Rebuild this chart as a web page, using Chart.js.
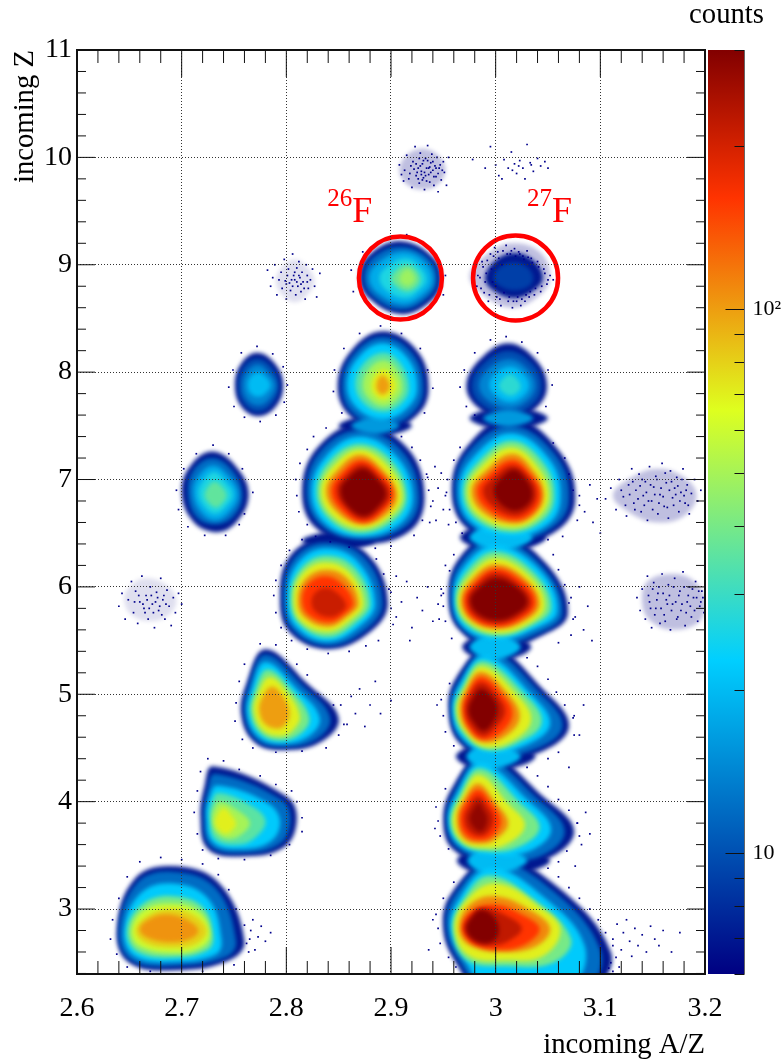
<!DOCTYPE html>
<html lang="en">
<head>
  <meta charset="UTF-8">
  <title>incoming Z vs incoming A/Z</title>
  <style>
    body { margin: 0; background: white; }
    #wrap { position: relative; width: 784px; height: 1063px; overflow: hidden; }
    canvas { position: absolute; top: 0; }
    #pid { left: 0; }
    #bar { left: 690px; }
  </style>
  <script src="https://cdn.jsdelivr.net/npm/chart.js"></script>
</head>
<body>
  <div id="wrap">
    <canvas id="pid" width="784" height="1063"></canvas>
    <canvas id="bar" width="94" height="1063"></canvas>
  </div>

  <script>
    // axis ticks
    const xTicks = [2.6, 2.7, 2.8, 2.9, 3, 3.1, 3.2];
    const xMinor = [2.62,2.64,2.66,2.68,2.72,2.74,2.76,2.78,2.82,2.84,2.86,2.88,2.92,2.94,2.96,2.98,3.02,3.04,3.06,3.08,3.12,3.14,3.16,3.18];
    const yTicks = [3, 4, 5, 6, 7, 8, 9, 10, 11];
    const yMinor = [2.4,2.6,2.8,3.2,3.4,3.6,3.8,4.2,4.4,4.6,4.8,5.2,5.4,5.6,5.8,6.2,6.4,6.6,6.8,7.2,7.4,7.6,7.8,8.2,8.4,8.6,8.8,9.2,9.4,9.6,9.8,10.2,10.4,10.6,10.8];
    const countTicks = [6,7,8,9,10,20,30,40,50,60,70,80,90,100,200,300];
    const countMajor = [10, 100];

    // ROOT rainbow palette stops
    const paletteStops = [0, 0.34, 0.61, 0.84, 1];
    const paletteRGB = [[0,0,130],[0,207,255],[222,255,31],[255,51,0],[130,0,0]];

    // count contours: [count, [x,z, x,z, ...]]
    const z7a = [
      [7,  [2.932,6.85, 2.915,7.30, 2.870,7.52, 2.830,7.30, 2.815,6.90, 2.828,6.55, 2.870,6.40, 2.918,6.52]],
      [12, [2.927,6.85, 2.910,7.27, 2.870,7.46, 2.833,7.27, 2.819,6.90, 2.832,6.58, 2.870,6.44, 2.914,6.56]],
      [22, [2.921,6.85, 2.905,7.22, 2.870,7.40, 2.838,7.22, 2.824,6.90, 2.836,6.60, 2.870,6.47, 2.908,6.58]],
      [40, [2.915,6.85, 2.900,7.18, 2.870,7.33, 2.842,7.18, 2.829,6.90, 2.840,6.64, 2.870,6.50, 2.903,6.62]],
      [70, [2.911,6.85, 2.897,7.13, 2.870,7.28, 2.845,7.13, 2.833,6.90, 2.843,6.67, 2.871,6.54, 2.899,6.65]],
      [110,[2.906,6.86, 2.893,7.08, 2.870,7.23, 2.848,7.08, 2.838,6.90, 2.847,6.71, 2.872,6.58, 2.896,6.68]],
      [160,[2.902,6.87, 2.891,7.05, 2.871,7.18, 2.852,7.05, 2.843,6.90, 2.851,6.73, 2.873,6.60, 2.893,6.71]],
      [220,[2.899,6.87, 2.889,7.02, 2.872,7.14, 2.855,7.02, 2.848,6.90, 2.855,6.75, 2.873,6.63, 2.891,6.73]],
      [300,[2.895,6.87, 2.887,7.00, 2.873,7.10, 2.858,7.00, 2.852,6.90, 2.858,6.76, 2.874,6.66, 2.888,6.75]]
    ];
    const z7b = [
      [7,  [3.076,6.80, 3.062,7.25, 3.015,7.58, 2.972,7.30, 2.958,6.90, 2.972,6.55, 3.015,6.40, 3.058,6.52]],
      [12, [3.070,6.80, 3.058,7.22, 3.015,7.50, 2.974,7.26, 2.961,6.90, 2.974,6.58, 3.015,6.43, 3.054,6.55]],
      [22, [3.062,6.82, 3.052,7.18, 3.015,7.43, 2.978,7.20, 2.965,6.90, 2.977,6.60, 3.015,6.47, 3.050,6.58]],
      [40, [3.056,6.84, 3.046,7.15, 3.015,7.36, 2.982,7.15, 2.969,6.90, 2.980,6.64, 3.015,6.51, 3.045,6.62]],
      [70, [3.051,6.85, 3.041,7.11, 3.015,7.30, 2.985,7.11, 2.973,6.90, 2.983,6.67, 3.016,6.55, 3.041,6.65]],
      [110,[3.046,6.86, 3.037,7.07, 3.016,7.24, 2.989,7.07, 2.977,6.90, 2.987,6.70, 3.017,6.59, 3.038,6.68]],
      [160,[3.043,6.87, 3.034,7.04, 3.016,7.18, 2.993,7.04, 2.982,6.90, 2.991,6.73, 3.017,6.62, 3.036,6.70]],
      [220,[3.039,6.87, 3.032,7.02, 3.016,7.13, 2.997,7.01, 2.988,6.90, 2.996,6.76, 3.017,6.66, 3.033,6.73]],
      [300,[3.035,6.87, 3.029,7.00, 3.017,7.09, 3.003,6.99, 2.998,6.90, 3.003,6.79, 3.017,6.71, 3.030,6.76]]
    ];
    const z6a = [
      [7,  [2.897,5.85, 2.878,6.30, 2.835,6.45, 2.803,6.28, 2.794,5.90, 2.803,5.58, 2.840,5.42, 2.880,5.58]],
      [12, [2.892,5.85, 2.874,6.28, 2.835,6.41, 2.806,6.25, 2.797,5.90, 2.806,5.60, 2.840,5.45, 2.876,5.60]],
      [22, [2.885,5.85, 2.868,6.24, 2.836,6.36, 2.810,6.21, 2.801,5.90, 2.809,5.63, 2.840,5.49, 2.871,5.64]],
      [40, [2.880,5.85, 2.864,6.19, 2.836,6.29, 2.813,6.16, 2.804,5.90, 2.812,5.66, 2.840,5.53, 2.867,5.67]],
      [70, [2.874,5.85, 2.860,6.14, 2.836,6.23, 2.815,6.12, 2.807,5.90, 2.814,5.68, 2.840,5.58, 2.863,5.70]],
      [110,[2.869,5.85, 2.857,6.09, 2.837,6.16, 2.818,6.07, 2.811,5.88, 2.817,5.72, 2.840,5.63, 2.859,5.73]],
      [160,[2.864,5.85, 2.853,6.03, 2.837,6.10, 2.821,6.03, 2.815,5.88, 2.821,5.74, 2.841,5.67, 2.856,5.75]],
      [210,[2.857,5.83, 2.849,5.94, 2.838,5.99, 2.828,5.95, 2.824,5.85, 2.829,5.76, 2.842,5.72, 2.852,5.76]]
    ];
    const z6b = [
      [7,  [3.069,5.75, 3.050,6.20, 3.000,6.50, 2.964,6.25, 2.955,5.90, 2.965,5.60, 3.000,5.42, 3.045,5.55]],
      [12, [3.064,5.75, 3.047,6.17, 3.000,6.45, 2.966,6.22, 2.957,5.90, 2.967,5.62, 3.000,5.46, 3.042,5.57]],
      [22, [3.059,5.77, 3.043,6.15, 3.000,6.39, 2.969,6.18, 2.960,5.88, 2.970,5.62, 3.002,5.51, 3.038,5.61]],
      [40, [3.053,5.80, 3.038,6.12, 3.000,6.33, 2.972,6.14, 2.962,5.88, 2.972,5.65, 3.002,5.54, 3.035,5.64]],
      [70, [3.047,5.82, 3.034,6.09, 3.000,6.27, 2.975,6.10, 2.964,5.88, 2.974,5.67, 3.002,5.57, 3.032,5.66]],
      [110,[3.042,5.84, 3.030,6.06, 3.000,6.21, 2.977,6.07, 2.967,5.88, 2.976,5.69, 3.002,5.61, 3.029,5.69]],
      [160,[3.038,5.85, 3.027,6.04, 3.000,6.17, 2.979,6.03, 2.970,5.88, 2.978,5.71, 3.002,5.63, 3.026,5.71]],
      [220,[3.034,5.85, 3.024,6.01, 3.000,6.13, 2.981,6.01, 2.973,5.88, 2.980,5.73, 3.002,5.66, 3.023,5.73]],
      [300,[3.030,5.86, 3.021,5.99, 3.000,6.08, 2.984,5.99, 2.976,5.88, 2.983,5.75, 3.002,5.69, 3.020,5.75]]
    ];
    const z5b = [
      [7,  [3.070,4.70, 3.045,5.05, 2.995,5.45, 2.962,5.15, 2.955,4.85, 2.965,4.55, 2.995,4.40, 3.040,4.45]],
      [12, [3.064,4.70, 3.042,5.02, 2.993,5.41, 2.964,5.12, 2.957,4.85, 2.967,4.57, 2.995,4.43, 3.036,4.48]],
      [22, [3.052,4.72, 3.034,5.00, 2.990,5.36, 2.966,5.09, 2.959,4.85, 2.968,4.60, 2.993,4.46, 3.028,4.52]],
      [40, [3.044,4.74, 3.028,5.00, 2.988,5.31, 2.968,5.07, 2.961,4.85, 2.970,4.62, 2.992,4.48, 3.022,4.55]],
      [70, [3.034,4.76, 3.021,4.99, 2.987,5.26, 2.970,5.04, 2.963,4.85, 2.972,4.64, 2.990,4.51, 3.017,4.57]],
      [110,[3.023,4.79, 3.013,4.99, 2.986,5.21, 2.971,5.03, 2.966,4.85, 2.973,4.66, 2.989,4.55, 3.011,4.62]],
      [160,[3.016,4.82, 3.007,4.99, 2.986,5.16, 2.973,5.00, 2.969,4.85, 2.975,4.68, 2.988,4.58, 3.006,4.65]],
      [220,[3.009,4.84, 3.002,4.98, 2.986,5.11, 2.975,4.99, 2.971,4.85, 2.976,4.71, 2.988,4.61, 3.000,4.69]],
      [300,[3.002,4.86, 2.997,4.97, 2.986,5.05, 2.978,4.96, 2.974,4.85, 2.979,4.74, 2.988,4.66, 2.997,4.73]]
    ];
    const z4b = [
      [7,  [3.075,3.72, 3.045,4.05, 2.990,4.45, 2.958,4.12, 2.950,3.80, 2.960,3.55, 2.995,3.42, 3.045,3.45]],
      [12, [3.066,3.72, 3.040,4.03, 2.988,4.41, 2.960,4.09, 2.953,3.80, 2.963,3.57, 2.993,3.46, 3.040,3.48]],
      [22, [3.053,3.74, 3.030,4.02, 2.986,4.36, 2.963,4.07, 2.955,3.82, 2.965,3.60, 2.990,3.51, 3.030,3.53]],
      [40, [3.042,3.76, 3.022,4.00, 2.985,4.31, 2.965,4.05, 2.957,3.82, 2.966,3.62, 2.989,3.54, 3.020,3.57]],
      [70, [3.028,3.78, 3.012,3.98, 2.984,4.25, 2.967,4.03, 2.959,3.82, 2.968,3.63, 2.987,3.57, 3.010,3.60]],
      [110,[3.012,3.80, 3.000,3.99, 2.983,4.17, 2.969,4.01, 2.963,3.84, 2.969,3.66, 2.985,3.61, 3.000,3.65]],
      [160,[3.005,3.82, 2.996,3.98, 2.983,4.11, 2.971,3.98, 2.966,3.84, 2.971,3.69, 2.985,3.64, 2.997,3.68]],
      [220,[2.998,3.84, 2.992,3.96, 2.983,4.05, 2.974,3.95, 2.970,3.84, 2.974,3.73, 2.985,3.68, 2.994,3.73]],
      [280,[2.992,3.85, 2.988,3.93, 2.984,3.99, 2.978,3.92, 2.975,3.85, 2.978,3.77, 2.985,3.72, 2.990,3.76]]
    ];
    const z3b = [
      [7,  [3.110,2.60, 3.060,3.20, 3.000,3.48, 2.958,3.15, 2.950,2.80, 2.965,2.45, 2.980,2.30, 3.095,2.30]],
      [12, [3.100,2.62, 3.055,3.17, 2.998,3.44, 2.960,3.12, 2.953,2.80, 2.968,2.47, 2.985,2.30, 3.088,2.30]],
      [22, [3.085,2.66, 3.045,3.12, 2.995,3.38, 2.964,3.08, 2.957,2.80, 2.972,2.50, 2.990,2.30, 3.072,2.30]],
      [40, [3.072,2.72, 3.035,3.10, 2.993,3.31, 2.967,3.05, 2.959,2.80, 2.973,2.52, 3.010,2.47, 3.055,2.50]],
      [70, [3.062,2.80, 3.045,3.00, 3.000,3.24, 2.970,3.06, 2.961,2.80, 2.975,2.56, 3.010,2.52, 3.045,2.56]],
      [110,[3.052,2.82, 3.035,2.98, 3.000,3.12, 2.975,3.04, 2.965,2.82, 2.975,2.66, 3.010,2.60, 3.040,2.66]],
      [160,[3.042,2.82, 3.025,2.95, 3.000,3.04, 2.977,2.98, 2.968,2.82, 2.978,2.68, 3.005,2.62, 3.030,2.68]],
      [220,[3.025,2.82, 3.010,2.94, 2.988,3.01, 2.977,2.95, 2.970,2.82, 2.978,2.70, 2.995,2.66, 3.012,2.70]],
      [300,[3.003,2.82, 2.998,2.93, 2.986,2.99, 2.977,2.92, 2.972,2.82, 2.978,2.72, 2.990,2.68, 3.000,2.72]]
    ];
    const z5a = [
      [7,  [2.850,4.78, 2.820,5.10, 2.780,5.42, 2.762,5.10, 2.757,4.80, 2.770,4.55, 2.795,4.48, 2.832,4.55]],
      [12, [2.842,4.78, 2.816,5.08, 2.780,5.37, 2.764,5.08, 2.760,4.80, 2.772,4.57, 2.795,4.51, 2.827,4.57]],
      [22, [2.832,4.78, 2.810,5.05, 2.780,5.30, 2.767,5.05, 2.763,4.80, 2.774,4.60, 2.795,4.54, 2.820,4.60]],
      [40, [2.822,4.78, 2.805,5.04, 2.782,5.23, 2.770,5.03, 2.766,4.82, 2.776,4.63, 2.795,4.57, 2.813,4.63]],
      [70, [2.813,4.80, 2.801,5.02, 2.784,5.16, 2.773,5.01, 2.769,4.84, 2.778,4.66, 2.795,4.61, 2.807,4.67]],
      [100,[2.803,4.84, 2.797,4.98, 2.786,5.07, 2.777,4.97, 2.774,4.85, 2.780,4.72, 2.792,4.68, 2.800,4.73]]
    ];
    const z4a = [
      [7,  [2.810,3.83, 2.800,4.05, 2.730,4.33, 2.722,4.15, 2.718,3.85, 2.725,3.56, 2.755,3.49, 2.797,3.57]],
      [12, [2.804,3.83, 2.795,4.02, 2.732,4.26, 2.725,4.12, 2.721,3.85, 2.727,3.59, 2.755,3.52, 2.793,3.60]],
      [22, [2.794,3.83, 2.780,4.00, 2.734,4.15, 2.727,4.05, 2.724,3.85, 2.730,3.62, 2.755,3.56, 2.785,3.63]],
      [35, [2.780,3.83, 2.765,3.97, 2.735,4.08, 2.729,4.00, 2.727,3.85, 2.732,3.65, 2.755,3.60, 2.772,3.68]],
      [50, [2.765,3.81, 2.752,3.93, 2.737,4.00, 2.731,3.94, 2.729,3.82, 2.734,3.70, 2.745,3.65, 2.758,3.70]],
      [70, [2.752,3.80, 2.747,3.88, 2.740,3.94, 2.734,3.88, 2.732,3.80, 2.736,3.73, 2.743,3.70, 2.749,3.74]]
    ];
    const z3a = [
      [7,  [2.760,2.70, 2.735,3.25, 2.690,3.40, 2.655,3.28, 2.638,2.80, 2.650,2.50, 2.695,2.43, 2.745,2.52]],
      [12, [2.752,2.70, 2.732,3.20, 2.690,3.35, 2.657,3.24, 2.640,2.80, 2.652,2.52, 2.695,2.47, 2.742,2.55]],
      [22, [2.738,2.72, 2.725,3.10, 2.690,3.24, 2.660,3.14, 2.645,2.80, 2.655,2.56, 2.695,2.51, 2.733,2.58]],
      [40, [2.730,2.75, 2.720,3.02, 2.690,3.12, 2.662,3.04, 2.648,2.80, 2.658,2.60, 2.695,2.55, 2.725,2.62]],
      [60, [2.727,2.78, 2.716,2.98, 2.690,3.05, 2.664,2.99, 2.652,2.80, 2.660,2.65, 2.695,2.59, 2.720,2.65]],
      [80, [2.724,2.80, 2.712,2.94, 2.690,3.00, 2.668,2.94, 2.656,2.80, 2.666,2.68, 2.695,2.64, 2.715,2.68]],
      [105,[2.716,2.80, 2.705,2.90, 2.685,2.95, 2.668,2.90, 2.660,2.81, 2.668,2.73, 2.690,2.69, 2.708,2.72]]
    ];
    const z7c = [
      [7,  [2.764,6.86, 2.752,7.12, 2.730,7.26, 2.710,7.15, 2.700,6.90, 2.710,6.62, 2.732,6.51, 2.752,6.60]],
      [12, [2.758,6.86, 2.749,7.08, 2.730,7.20, 2.712,7.10, 2.706,6.88, 2.714,6.65, 2.732,6.58, 2.750,6.66]],
      [18, [2.754,6.86, 2.745,7.03, 2.730,7.13, 2.716,7.03, 2.711,6.88, 2.718,6.70, 2.732,6.62, 2.746,6.70]],
      [26, [2.749,6.86, 2.741,6.99, 2.731,7.07, 2.720,6.98, 2.716,6.86, 2.722,6.74, 2.732,6.68, 2.742,6.74]],
      [36, [2.743,6.85, 2.738,6.94, 2.731,6.98, 2.725,6.93, 2.722,6.85, 2.726,6.78, 2.733,6.74, 2.739,6.78]]
    ];
    const z8a = [
      [7,  [2.797,7.88, 2.789,8.08, 2.772,8.18, 2.757,8.08, 2.751,7.88, 2.757,7.68, 2.773,7.59, 2.790,7.68]],
      [10, [2.793,7.88, 2.786,8.05, 2.772,8.13, 2.759,8.05, 2.754,7.88, 2.759,7.71, 2.773,7.63, 2.787,7.71]],
      [14, [2.790,7.88, 2.783,8.00, 2.773,8.07, 2.762,8.00, 2.758,7.88, 2.762,7.75, 2.773,7.69, 2.784,7.75]],
      [20, [2.785,7.88, 2.780,7.96, 2.773,8.00, 2.766,7.96, 2.763,7.88, 2.766,7.80, 2.773,7.77, 2.780,7.80]]
    ];
    const z8b = [
      [7,  [2.936,7.85, 2.925,8.20, 2.892,8.38, 2.862,8.20, 2.849,7.88, 2.860,7.60, 2.893,7.45, 2.925,7.60]],
      [12, [2.931,7.85, 2.921,8.17, 2.892,8.33, 2.864,8.17, 2.853,7.88, 2.863,7.62, 2.893,7.50, 2.921,7.62]],
      [22, [2.925,7.85, 2.916,8.13, 2.892,8.27, 2.868,8.13, 2.858,7.88, 2.868,7.66, 2.893,7.56, 2.915,7.66]],
      [35, [2.917,7.85, 2.909,8.08, 2.893,8.18, 2.874,8.08, 2.866,7.88, 2.875,7.70, 2.893,7.63, 2.909,7.70]],
      [50, [2.911,7.86, 2.905,8.03, 2.893,8.11, 2.879,8.03, 2.873,7.87, 2.880,7.74, 2.893,7.68, 2.905,7.74]],
      [70, [2.905,7.87, 2.900,7.98, 2.893,8.03, 2.885,7.98, 2.881,7.87, 2.885,7.78, 2.893,7.74, 2.900,7.78]],
      [100,[2.899,7.87, 2.896,7.94, 2.892,7.97, 2.888,7.94, 2.886,7.87, 2.888,7.81, 2.892,7.79, 2.896,7.81]]
    ];
    const z8c = [
      [7,  [3.049,7.88, 3.038,8.12, 3.012,8.27, 2.985,8.12, 2.972,7.88, 2.982,7.68, 3.012,7.55, 3.040,7.68]],
      [10, [3.044,7.88, 3.035,8.08, 3.012,8.20, 2.988,8.08, 2.977,7.88, 2.986,7.70, 3.012,7.60, 3.036,7.70]],
      [14, [3.038,7.88, 3.030,8.03, 3.013,8.12, 2.993,8.03, 2.984,7.88, 2.992,7.74, 3.013,7.66, 3.031,7.74]],
      [20, [3.032,7.88, 3.026,7.99, 3.014,8.05, 3.000,7.99, 2.994,7.88, 3.000,7.78, 3.014,7.72, 3.027,7.78]],
      [28, [3.024,7.87, 3.020,7.94, 3.014,7.98, 3.007,7.94, 3.003,7.87, 3.007,7.81, 3.014,7.78, 3.021,7.81]]
    ];
    const z9a = [
      [7,  [2.948,8.85, 2.940,9.07, 2.910,9.22, 2.880,9.10, 2.870,8.88, 2.880,8.68, 2.910,8.54, 2.938,8.66]],
      [12, [2.944,8.85, 2.937,9.05, 2.910,9.17, 2.883,9.07, 2.874,8.88, 2.883,8.70, 2.910,8.58, 2.935,8.69]],
      [18, [2.940,8.85, 2.933,9.02, 2.912,9.12, 2.888,9.02, 2.879,8.88, 2.888,8.73, 2.912,8.63, 2.931,8.72]],
      [26, [2.934,8.86, 2.928,8.98, 2.914,9.06, 2.896,8.98, 2.889,8.88, 2.896,8.76, 2.914,8.69, 2.927,8.76]],
      [38, [2.928,8.86, 2.924,8.95, 2.915,9.00, 2.905,8.95, 2.900,8.87, 2.905,8.80, 2.915,8.75, 2.924,8.79]],
      [48, [2.923,8.87, 2.920,8.93, 2.916,8.96, 2.911,8.93, 2.908,8.87, 2.911,8.82, 2.916,8.80, 2.920,8.82]]
    ];
    const z9b = [
      [2,  [3.052,8.88, 3.042,9.12, 3.015,9.20, 2.992,9.10, 2.975,8.90, 2.988,8.72, 3.015,8.60, 3.040,8.70]],
      [7,  [3.045,8.88, 3.036,9.04, 3.018,9.11, 3.000,9.04, 2.990,8.88, 2.998,8.76, 3.018,8.69, 3.036,8.76]],
      [9,  [3.036,8.88, 3.030,8.98, 3.018,9.02, 3.004,8.98, 2.998,8.88, 3.004,8.80, 3.018,8.76, 3.032,8.80]]
    ];
    const necks = [
      [7,  [3.048,6.46, 3.005,6.62, 2.966,6.46, 3.005,6.32]],
      [20, [3.035,6.46, 3.005,6.60, 2.975,6.46, 3.005,6.34]],
      [7,  [3.034,5.44, 2.998,5.58, 2.968,5.44, 2.998,5.30]],
      [20, [3.024,5.44, 2.998,5.56, 2.975,5.44, 2.998,5.32]],
      [7,  [3.038,4.42, 2.995,4.56, 2.962,4.42, 2.995,4.28]],
      [20, [3.024,4.42, 2.993,4.54, 2.972,4.42, 2.993,4.30]],
      [7,  [3.052,3.45, 3.000,3.60, 2.963,3.45, 3.000,3.30]],
      [20, [3.030,3.45, 2.996,3.58, 2.973,3.45, 2.996,3.32]],
      [7,  [2.885,6.43, 2.850,6.52, 2.815,6.43, 2.850,6.34]],
      [7,  [2.920,7.50, 2.885,7.60, 2.850,7.50, 2.885,7.40]],
      [16, [2.908,7.50, 2.885,7.58, 2.862,7.50, 2.885,7.42]],
      [7,  [3.050,7.57, 3.012,7.68, 2.975,7.57, 3.012,7.46]],
      [16, [3.036,7.57, 3.012,7.65, 2.988,7.57, 3.012,7.49]]
    ];
    const sparse = [
      [2,  [2.952,9.88, 2.945,10.02, 2.930,10.08, 2.915,10.02, 2.908,9.88, 2.915,9.75, 2.930,9.70, 2.945,9.75]],
      [2,  [3.192,6.85, 3.180,7.02, 3.155,7.10, 3.130,7.02, 3.112,6.85, 3.130,6.68, 3.155,6.60, 3.180,6.66]],
      [2,  [3.200,5.87, 3.190,6.05, 3.170,6.12, 3.145,6.05, 3.140,5.85, 3.148,5.68, 3.170,5.60, 3.195,5.68]],
      [1,  [2.695,5.88, 2.685,6.02, 2.665,6.08, 2.650,6.00, 2.645,5.88, 2.652,5.74, 2.670,5.68, 2.688,5.74]],
      [1,  [2.827,8.85, 2.820,8.98, 2.808,9.05, 2.796,8.98, 2.790,8.85, 2.796,8.72, 2.808,8.65, 2.820,8.72]]
    ];

    // lone low-count cells: x,z pairs
    const cellsZ10a = [2.908,9.93,2.912,9.78,2.915,10.02,2.918,9.85,2.92,9.72,2.921,9.96,2.923,10.1,2.924,9.83,2.926,9.9,2.927,9.76,2.928,10.04,2.929,9.87,2.93,9.94,2.931,9.81,2.932,9.7,2.933,9.99,2.934,9.9,2.935,10.11,2.936,9.84,2.937,9.77,2.938,9.95,2.939,10.03,2.94,9.88,2.941,9.74,2.942,9.92,2.943,9.82,2.944,10.0,2.945,9.68,2.946,9.9,2.948,9.79,2.95,9.96,2.951,9.86,2.953,9.74,2.955,10.0,2.927,9.99,2.932,9.86,2.937,9.91,2.925,9.86,2.93,9.79,2.935,9.97,
      2.922,9.89,2.924,9.94,2.926,9.8,2.928,9.92,2.929,9.84,2.931,9.97,2.933,9.83,2.934,9.78,2.936,9.9,2.938,9.86,2.94,9.96,2.941,9.82,2.943,9.9,2.945,9.85,2.947,9.93,2.919,9.92,2.917,9.8,2.913,9.88,2.91,9.84,2.949,9.88];
    const cellsZ10b = [2.978,9.98,2.99,9.9,2.995,10.1,3.0,9.93,3.003,9.83,3.008,9.98,3.012,9.9,3.015,10.05,3.018,9.94,3.02,9.85,3.023,9.97,3.026,9.9,3.03,10.12,3.033,9.95,3.036,9.87,3.04,9.99,3.043,9.92,3.047,9.96,3.05,9.9,3.006,9.8,3.028,9.8,3.016,9.88,3.022,9.92,3.034,9.93];
    const cellsZ9c = [2.782,8.95,2.785,8.8,2.787,8.88,2.789,9.0,2.791,8.72,2.793,8.86,2.795,8.93,2.796,8.78,2.798,9.05,2.799,8.85,2.8,8.68,2.802,8.96,2.803,8.83,2.804,8.76,2.806,9.1,2.807,8.9,2.808,8.86,2.809,8.72,2.81,8.97,2.811,8.8,2.812,9.03,2.813,8.88,2.814,8.75,2.815,8.93,2.816,8.84,2.818,8.68,2.819,9.0,2.82,8.9,2.821,8.78,2.823,8.86,2.825,8.96,2.827,8.8,2.829,8.7,2.832,8.92,
      2.8,8.82,2.801,8.9,2.805,8.86,2.806,8.8,2.808,8.93,2.81,8.84,2.812,8.9,2.814,8.82,2.817,8.78,2.82,8.84];
    const cellsZ9b = [2.979,8.95,2.982,8.8,2.985,8.88,2.987,9.03,2.989,8.74,2.991,8.92,2.993,8.66,2.995,9.1,2.997,8.84,2.999,9.16,3.001,8.7,3.003,9.06,3.005,8.62,3.007,9.13,3.01,9.18,3.012,8.66,3.014,9.1,3.016,8.6,3.018,9.15,3.02,8.66,3.022,9.12,3.024,8.62,3.026,9.08,3.028,8.66,3.03,9.13,3.032,8.7,3.034,9.06,3.037,8.72,3.04,9.03,3.043,8.75,3.046,8.96,3.049,8.82,3.052,8.9,3.055,8.86,
      2.983,8.9,2.986,8.78,2.988,8.98,2.99,8.84,2.992,9.04,2.994,8.72,2.996,8.96,2.998,9.08,3.0,8.8,3.002,9.12,3.004,8.68,3.006,9.0,3.008,8.74,3.011,9.1,3.013,8.7,3.015,9.13,3.017,8.66,3.019,9.08,3.021,8.7,3.023,9.1,3.025,8.68,3.027,9.05,3.029,8.72,3.031,9.07,3.033,8.75,3.035,9.02,3.038,8.78,3.041,8.98,3.044,8.8,3.047,8.92,3.05,8.86];
    const cellsZ7d = [3.105,6.82,3.11,6.92,3.115,6.72,3.118,7.0,3.122,6.84,3.125,6.66,3.127,6.95,3.13,7.1,3.132,6.78,3.134,6.9,3.137,7.05,3.139,6.7,3.141,6.85,3.143,6.98,3.145,6.62,3.147,7.12,3.149,6.8,3.151,6.93,3.153,7.03,3.155,6.68,3.157,6.86,3.159,7.15,3.161,6.75,3.163,6.97,3.165,6.64,3.167,7.08,3.169,6.83,3.171,6.92,3.173,7.02,3.175,6.7,3.177,6.88,3.179,7.1,3.181,6.78,3.183,6.95,3.185,6.68,3.187,6.87,3.19,7.0,3.193,6.8,3.196,6.9,
      3.12,6.9,3.124,6.76,3.128,6.86,3.131,6.98,3.133,6.72,3.136,6.82,3.138,6.94,3.14,7.0,3.142,6.76,3.144,6.88,3.146,6.8,3.148,6.95,3.15,6.72,3.152,6.86,3.154,7.0,3.156,6.78,3.158,6.92,3.16,6.84,3.162,7.06,3.164,6.74,3.166,6.9,3.168,6.98,3.17,6.76,3.172,6.86,3.174,6.94,3.176,6.8,3.178,7.0,3.18,6.85,3.182,6.9,3.184,6.76];
    const cellsZ6c = [3.135,5.9,3.138,5.78,3.14,5.98,3.143,5.7,3.145,6.1,3.147,5.86,3.149,5.62,3.151,6.04,3.153,5.8,3.155,5.94,3.157,5.66,3.159,6.12,3.161,5.74,3.163,5.88,3.165,6.02,3.167,5.6,3.169,5.84,3.171,6.08,3.173,5.7,3.175,5.92,3.177,5.78,3.179,6.14,3.181,5.64,3.183,5.86,3.185,6.0,3.187,5.72,3.189,5.9,3.191,6.05,3.193,5.68,3.195,5.82,3.197,5.96,3.199,5.76,
      3.146,5.92,3.148,5.8,3.15,5.98,3.152,5.74,3.154,5.88,3.156,6.0,3.158,5.8,3.16,5.94,3.162,5.68,3.164,5.84,3.166,5.92,3.168,5.78,3.17,6.0,3.172,5.86,3.174,5.72,3.176,5.96,3.178,5.84,3.18,6.0,3.182,5.76,3.184,5.92,3.186,5.82,3.188,5.98,3.19,5.78,3.192,5.9,3.194,5.96,3.196,5.86,3.198,5.9];
    const cellsZ6d = [2.64,5.82,2.643,5.94,2.646,5.7,2.649,5.88,2.652,6.05,2.654,5.76,2.656,5.96,2.658,5.66,2.66,5.86,2.662,6.1,2.664,5.8,2.666,5.92,2.668,5.7,2.67,6.0,2.672,5.84,2.674,5.62,2.676,5.95,2.678,5.78,2.68,6.08,2.682,5.88,2.684,5.7,2.686,5.97,2.688,5.82,2.69,5.64,2.692,5.9,2.694,5.76,2.697,5.94,2.7,5.84,
      2.655,5.86,2.659,5.92,2.663,5.84,2.665,5.76,2.667,5.88,2.669,5.8,2.671,5.92,2.673,5.76,2.675,5.86,2.677,5.9,2.679,5.82,2.681,5.74,2.683,5.92,2.685,5.84];
    const cellsTails = [
      3.112,2.72,3.116,2.86,3.12,2.62,3.122,2.78,3.125,2.9,3.128,2.7,3.13,2.56,3.133,2.82,3.136,2.66,3.14,2.76,3.144,2.6,3.148,2.84,3.152,2.72,3.156,2.66,3.16,2.8,3.168,2.6,3.176,2.78,3.11,2.5,3.118,2.46,
      2.762,2.68,2.766,2.8,2.768,2.9,2.77,2.62,2.773,2.74,2.776,2.84,2.78,2.7,2.785,2.78,
      2.935,7.02,2.94,6.8,2.943,6.62,2.945,6.92,2.948,7.06,2.95,6.72,2.953,6.88,2.955,6.58,2.937,6.6,2.942,7.12,
      2.9,5.95,2.905,5.72,2.91,5.86,2.915,6.05,2.92,5.62,2.925,5.9,2.93,5.78,2.935,6.0,2.94,5.68,2.945,5.84,2.95,5.94,2.905,6.1,2.918,5.5,
      2.852,4.9,2.858,4.72,2.862,4.98,2.866,4.82,2.87,5.05,2.875,4.7,2.88,4.9,2.885,5.12,2.89,4.82,2.9,4.94,
      3.08,6.85,3.085,6.7,3.09,6.95,3.093,6.6,3.097,6.82,3.1,6.5,
      3.072,5.9,3.076,5.72,3.08,6.0,3.084,5.6,3.088,5.82,3.092,5.5,
      3.075,4.8,3.08,4.62,3.084,4.9,3.07,4.32,
      3.078,3.8,3.082,3.6,3.086,3.9,3.09,3.7,3.076,3.4,
      2.952,6.2,2.948,5.92,2.946,5.7,2.944,4.9,2.942,3.75,2.94,2.9,2.936,2.62
    ];
    // grainy cells just outside the blob edges
    const cellsRim = [
      2.936,6.9,2.938,6.75,2.934,7.05,2.93,6.62,2.928,7.18,2.922,6.48,2.92,7.3,2.91,7.4,2.9,6.38,2.885,6.36,2.86,6.37,2.842,6.42,2.828,6.47,2.82,6.58,2.812,6.7,2.81,6.85,2.809,7.0,2.813,7.15,2.82,7.28,2.826,7.4,2.838,7.48,
      3.08,6.76,3.078,6.62,3.074,6.9,3.07,7.05,3.066,7.2,3.055,7.34,3.064,6.47,3.05,6.44,2.952,6.85,2.954,7.0,2.956,6.72,2.96,7.18,2.962,6.6,2.966,7.3,2.968,6.5,
      2.9,5.8,2.902,5.65,2.898,5.98,2.893,6.12,2.886,6.26,2.888,5.5,2.876,5.45,2.86,5.4,2.84,5.38,2.82,5.42,2.805,5.5,2.795,5.62,2.79,5.76,2.788,5.92,2.79,6.06,2.795,6.2,2.803,6.34,2.815,6.44,
      3.074,5.7,3.072,5.55,3.07,5.85,3.066,6.02,3.06,6.16,3.055,6.3,3.06,5.48,2.95,5.82,2.948,5.98,2.952,5.68,2.956,6.15,2.958,5.52,2.96,6.3,
      3.075,4.62,3.074,4.78,3.066,4.9,3.058,5.02,3.05,5.14,3.04,5.26,3.03,5.34,3.06,4.46,3.05,4.4,2.95,4.8,2.948,4.95,2.952,4.65,2.956,5.1,2.96,4.52,
      3.08,3.68,3.078,3.8,3.07,3.92,3.06,4.02,3.05,4.14,3.04,4.24,3.03,4.32,3.068,3.54,3.06,3.44,2.945,3.82,2.943,3.95,2.947,3.68,2.952,4.12,2.955,3.56,
      3.115,2.55,3.112,2.66,3.105,2.78,3.098,2.9,3.09,3.0,3.08,3.1,3.07,3.2,3.06,3.3,3.05,3.38,3.108,2.45,3.112,2.42,2.945,2.82,2.943,2.95,2.947,2.68,2.95,3.1,2.955,2.55,2.96,3.25,2.962,2.46,
      2.855,4.72,2.85,4.62,2.845,4.9,2.838,4.5,2.83,5.0,2.82,5.18,2.81,5.28,2.79,5.46,2.775,5.47,2.76,5.28,2.755,5.12,2.752,4.92,2.751,4.75,2.758,4.58,2.768,4.5,2.79,4.46,2.815,4.47,
      2.815,3.85,2.815,3.72,2.81,4.0,2.805,4.1,2.79,4.16,2.775,4.24,2.755,4.3,2.74,4.38,2.725,4.4,2.718,4.28,2.715,4.1,2.712,3.9,2.715,3.7,2.72,3.55,2.735,3.47,2.76,3.46,2.785,3.5,2.803,3.6,
      2.765,2.72,2.764,2.6,2.76,2.85,2.752,3.0,2.745,3.18,2.735,3.32,2.72,3.42,2.7,3.46,2.68,3.48,2.66,3.44,2.648,3.3,2.64,3.1,2.634,2.9,2.632,2.72,2.638,2.58,2.648,2.46,2.67,2.42,2.72,2.42,2.75,2.48,
      2.768,6.88,2.76,6.68,2.758,7.1,2.745,7.24,2.73,7.32,2.714,7.24,2.702,7.1,2.695,6.9,2.697,6.72,2.706,6.56,2.722,6.48,2.742,6.48,2.755,6.58,
      2.801,7.88,2.797,8.05,2.787,8.17,2.772,8.24,2.757,8.18,2.749,8.02,2.745,7.86,2.75,7.68,2.76,7.58,2.775,7.54,2.79,7.6,2.798,7.72,
      2.94,7.85,2.935,8.02,2.928,8.22,2.91,8.36,2.89,8.43,2.87,8.36,2.855,8.22,2.846,8.02,2.845,7.82,2.853,7.62,2.932,7.62,
      3.054,7.88,3.05,8.02,3.04,8.18,3.025,8.28,3.01,8.33,2.995,8.3,2.98,8.18,2.97,8.02,2.966,7.86,2.972,7.68,2.98,7.6,3.048,7.68,
      2.952,8.9,2.95,8.72,2.945,9.06,2.935,9.17,2.915,9.28,2.895,9.24,2.873,9.12,2.862,8.95,2.864,8.75,2.88,8.6,2.905,8.49,2.93,8.56
    ];

    // red circles and their isotope labels
    const circleX = [2.909, 3.019];
    const circleZ = [8.877, 8.877];
    const circleR = [41.5, 42.5];
    const isotopeMass = ['26', '27'];
    const isotopeX = [2.839, 3.03];
    const isotopeZ = [9.396, 9.396];

    const serif = "'Liberation Serif', serif";

    function countColor(c) {
      const f = Math.max(0, Math.min(1, Math.log(c / 6) / Math.log(50)));
      let i = 0;
      while (i < paletteStops.length - 2 && f > paletteStops[i + 1]) i++;
      const t = (f - paletteStops[i]) / (paletteStops[i + 1] - paletteStops[i]);
      const rgb = paletteRGB[i].map((v, k) => Math.round(v + (paletteRGB[i + 1][k] - v) * t));
      const alpha = c < 6 ? c / 8 : 1;
      return `rgba(${rgb[0]},${rgb[1]},${rgb[2]},${alpha})`;
    }

    const toPoints = arr => {
      const pts = [];
      for (let i = 0; i < arr.length; i += 2) pts.push({ x: arr[i], y: arr[i + 1] });
      return pts;
    };

    const contours = [z7a, z7b, z6a, z6b, z5b, z4b, z3b, z5a, z4a, z3a, z7c, z8a, z8b, z8c, z9a, z9b, necks, sparse]
      .flat()
      .sort((a, b) => a[0] - b[0]);

    const datasets = contours.map((c, i) => {
      const pts = toPoints(c[1]);
      // wrap round so the spline has no corner where the contour closes
      const closed = [pts[pts.length - 1], ...pts, pts[0], pts[1]];
      return {
        data: closed,
        showLine: true,
        fill: 'shape',
        tension: 0.4,
        borderWidth: 0,
        pointRadius: 0,
        backgroundColor: countColor(c[0]),
        order: 5000 - i
      };
    });

    // cells on top of the contours
    datasets.push({
      data: toPoints([...cellsZ10a, ...cellsZ10b, ...cellsZ9c, ...cellsZ9b, ...cellsZ7d, ...cellsZ6c, ...cellsZ6d, ...cellsTails, ...cellsRim]),
      pointStyle: 'rect',
      pointRadius: 1.2,
      borderWidth: 0,
      backgroundColor: 'rgb(0,0,140)',
      order: 20
    });
    datasets.push({
      data: circleX.map((x, i) => ({ x: x, y: circleZ[i] })),
      pointStyle: 'circle',
      pointRadius: circleR,
      pointBorderWidth: 4.5,
      pointBorderColor: '#ff0000',
      pointBackgroundColor: 'rgba(0,0,0,0)',
      order: 10
    });

    // soften the contour bands into a gradient, cells and circles stay sharp
    const softBands = {
      id: 'softBands',
      beforeDatasetsDraw(chart) { chart.ctx.filter = 'blur(2px)'; },
      beforeDatasetDraw(chart, args) {
        chart.ctx.filter = chart.data.datasets[args.index].fill === 'shape' ? 'blur(2px)' : 'none';
      },
      afterDatasetsDraw(chart) { chart.ctx.filter = 'none'; }
    };

    const rootFrame = {
      id: 'rootFrame',
      afterDraw(chart) {
        const { ctx, chartArea: a, scales: { x, y } } = chart;
        ctx.save();
        ctx.strokeStyle = '#111';
        ctx.lineWidth = 1;
        const seg = (x0, y0, x1, y1) => { ctx.beginPath(); ctx.moveTo(x0, y0); ctx.lineTo(x1, y1); ctx.stroke(); };
        xMinor.forEach(v => { const p = x.getPixelForValue(v); seg(p, a.top, p, a.top + 13); seg(p, a.bottom, p, a.bottom - 13); });
        xTicks.forEach(v => { const p = x.getPixelForValue(v); seg(p, a.top, p, a.top + 27); seg(p, a.bottom, p, a.bottom - 27); });
        yMinor.forEach(v => { const p = y.getPixelForValue(v); seg(a.left, p, a.left + 9, p); seg(a.right, p, a.right - 9, p); });
        yTicks.forEach(v => { const p = y.getPixelForValue(v); seg(a.left, p, a.left + 18, p); seg(a.right, p, a.right - 18, p); });
        ctx.lineWidth = 2;
        ctx.strokeRect(a.left, a.top, a.right - a.left, a.bottom - a.top);
        ctx.fillStyle = '#ff0000';
        ctx.textBaseline = 'alphabetic';
        ctx.textAlign = 'left';
        isotopeMass.forEach((m, i) => {
          const px = x.getPixelForValue(isotopeX[i]);
          const py = y.getPixelForValue(isotopeZ[i]);
          ctx.font = '25px ' + serif;
          ctx.fillText(m, px, py - 16);
          const w = ctx.measureText(m).width;
          ctx.font = '36px ' + serif;
          ctx.fillText('F', px + w, py);
        });
        ctx.restore();
      }
    };

    new Chart(document.getElementById('pid'), {
      type: 'scatter',
      data: { datasets: datasets },
      options: {
        responsive: false,
        animation: false,
        layout: { padding: { top: 50, right: 79, left: 0, bottom: 0 } },
        plugins: { legend: { display: false }, tooltip: { enabled: false } },
        scales: {
          x: {
            type: 'linear', min: 2.6, max: 3.2,
            afterBuildTicks: s => { s.ticks = xTicks.map(v => ({ value: v })); },
            afterFit: s => { s.height = 89; },
            grid: { z: 1, color: '#333', lineWidth: 1, drawTicks: false },
            border: { display: false, dash: [1, 2] },
            ticks: { color: '#000', font: { family: serif, size: 28 }, padding: 18, maxRotation: 0, autoSkip: false, callback: v => String(v) },
            title: { display: true, text: 'incoming A/Z', align: 'end', color: '#000', font: { family: serif, size: 28.7 }, padding: { top: 0, bottom: 0 } }
          },
          y: {
            type: 'linear', min: 2.395, max: 11,
            afterBuildTicks: s => { s.ticks = yTicks.map(v => ({ value: v })); },
            afterFit: s => { s.width = 77; },
            grid: { z: 1, color: '#333', lineWidth: 1, drawTicks: false },
            border: { display: false, dash: [1, 2] },
            ticks: { color: '#000', font: { family: serif, size: 28 }, padding: 5, autoSkip: false, callback: v => String(v) },
            title: { display: true, text: 'incoming Z', align: 'end', color: '#000', font: { family: serif, size: 28.7 }, padding: { top: 8, bottom: 0 } }
          }
        }
      },
      plugins: [softBands, rootFrame]
    });

    // colour bar
    const barFrame = {
      id: 'barFrame',
      afterDraw(chart) {
        const { ctx, chartArea: a, scales: { y } } = chart;
        ctx.save();
        ctx.strokeStyle = '#111';
        ctx.lineWidth = 1;
        countTicks.forEach(v => {
          const p = Math.round(y.getPixelForValue(v)) + 0.5;
          const len = countMajor.includes(v) ? 19 : 10;
          ctx.beginPath(); ctx.moveTo(a.right, p); ctx.lineTo(a.right - len, p); ctx.stroke();
        });
        ctx.strokeStyle = '#666';
        ctx.beginPath(); ctx.moveTo(a.right, a.top); ctx.lineTo(a.right, a.bottom); ctx.stroke();
        ctx.fillStyle = '#000';
        ctx.font = '28.7px ' + serif;
        ctx.textAlign = 'right';
        ctx.textBaseline = 'alphabetic';
        ctx.fillText('counts', 74, 23);
        ctx.restore();
      }
    };

    new Chart(document.getElementById('bar'), {
      type: 'bar',
      data: {
        labels: ['counts'],
        datasets: [{
          data: [[6, 300]],
          barPercentage: 1,
          categoryPercentage: 1,
          borderWidth: 0,
          backgroundColor: ctx => {
            const a = ctx.chart.chartArea;
            if (!a) return 'rgb(0,0,130)';
            const g = ctx.chart.ctx.createLinearGradient(0, a.bottom, 0, a.top);
            paletteStops.forEach((s, i) => g.addColorStop(s, `rgb(${paletteRGB[i].join(',')})`));
            return g;
          }
        }]
      },
      options: {
        responsive: false,
        animation: false,
        layout: { padding: { top: 50, left: 18, right: 0, bottom: 89 } },
        plugins: { legend: { display: false }, tooltip: { enabled: false } },
        scales: {
          x: { display: false },
          y: {
            type: 'logarithmic', position: 'right', min: 6, max: 300,
            afterBuildTicks: s => { s.ticks = countTicks.map(v => ({ value: v })); },
            afterFit: s => { s.width = 39.5; },
            grid: { display: false, drawTicks: false },
            border: { display: false },
            ticks: { color: '#000', font: { family: serif, size: 22 }, padding: 8, autoSkip: false, maxRotation: 0,
              callback: v => (v === 10 ? '10' : v === 100 ? '10²' : '') }
          }
        }
      },
      plugins: [barFrame]
    });
  </script>
</body>
</html>
